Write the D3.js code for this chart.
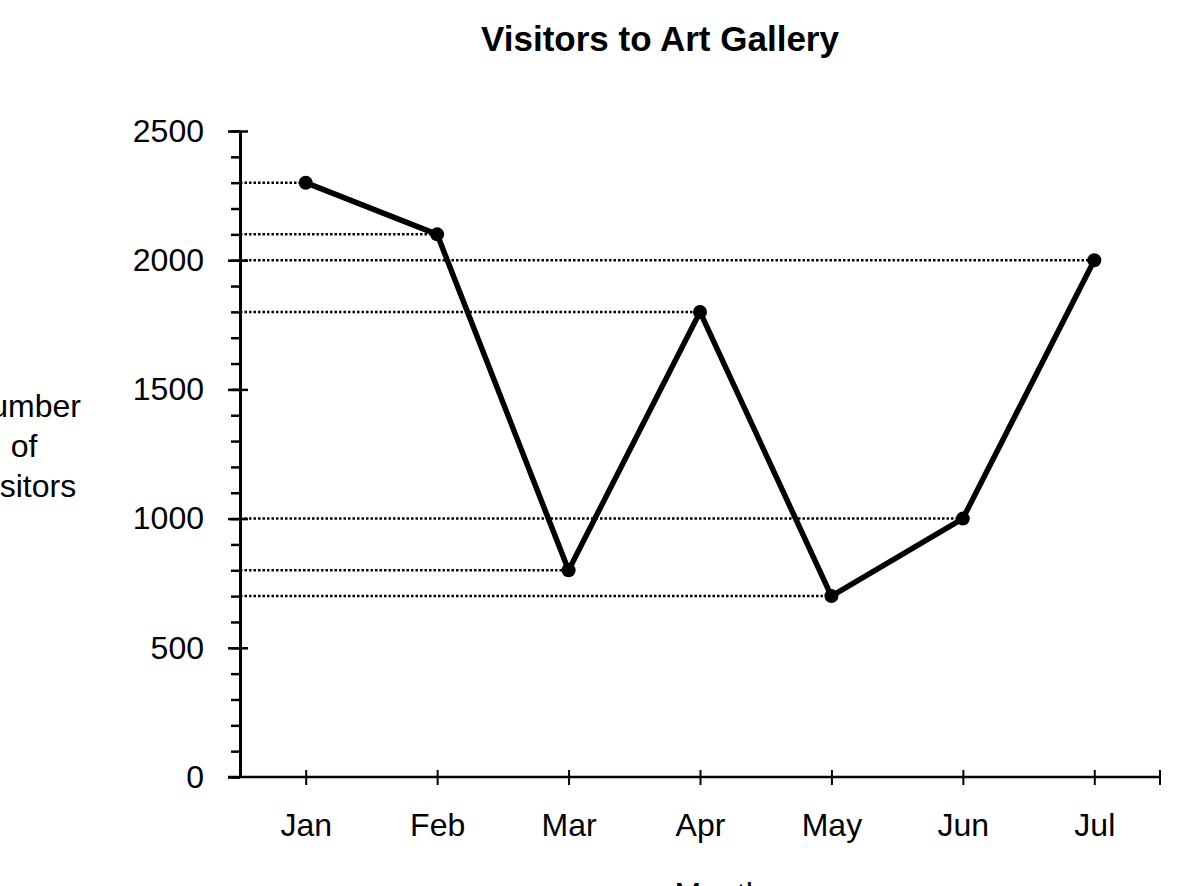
<!DOCTYPE html>
<html>
<head>
<meta charset="utf-8">
<script src="https://cdn.jsdelivr.net/npm/d3@7"></script>
<style>
  html, body { margin: 0; padding: 0; background: #fff; }
  svg { display: block; font-family: "Liberation Sans", Arial, sans-serif; }
</style>
</head>
<body>
<svg id="chart" width="1198" height="886"></svg>
<script>
const months = ["Jan", "Feb", "Mar", "Apr", "May", "Jun", "Jul"];
const visitors = [2300, 2100, 800, 1800, 700, 1000, 2000];
const majorTicks = [0, 500, 1000, 1500, 2000, 2500];
const minorTicks = d3.range(0, 2501, 100);
const chartTitle = "Visitors to Art Gallery";
const xTitle = "Month";
const yTitleLines = ["Number", "of", "Visitors"];

const svg = d3.select("#chart");
const axisX = 240, axisEnd = 1160, plotTop = 131, plotBottom = 777;

const x = d3.scalePoint().domain(months).range([axisX, axisEnd]).padding(0.5);
const y = d3.scaleLinear().domain([0, 2500]).range([plotBottom, plotTop]);

const data = months.map((m, i) => ({ m, v: visitors[i] }));

// Title
svg.append("text").attr("x", 660).attr("y", 51).attr("text-anchor", "middle")
  .attr("font-size", 35).attr("font-weight", "bold").text(chartTitle);

// Dotted guide lines
svg.append("g").selectAll("line").data(data).join("line")
  .attr("x1", axisX).attr("x2", d => x(d.m))
  .attr("y1", d => y(d.v)).attr("y2", d => y(d.v))
  .attr("stroke", "#000").attr("stroke-width", 2.5)
  .attr("stroke-dasharray", "2.5,2");

// Y axis: minor ticks (left side)
const gMinor = svg.append("g").attr("transform", `translate(${axisX},0)`)
  .call(d3.axisLeft(y).tickValues(minorTicks).tickSize(9).tickFormat(""));
gMinor.select(".domain").remove();
gMinor.selectAll(".tick line").attr("stroke", "#000").attr("stroke-width", 2.5);

// Y axis major (left with labels)
const gY = svg.append("g").attr("transform", `translate(${axisX},0)`)
  .call(d3.axisLeft(y).tickValues(majorTicks).tickFormat(d3.format("d"))
    .tickSize(12).tickPadding(24).tickSizeOuter(0));
gY.select(".domain").attr("stroke", "#000").attr("stroke-width", 3);
gY.selectAll(".tick line").attr("stroke", "#000").attr("stroke-width", 2.5);
gY.selectAll(".tick text").attr("font-size", 32).attr("fill", "#000")
  .attr("font-family", "Liberation Sans, Arial, sans-serif");

// Y axis major right part
const gYR = svg.append("g").attr("transform", `translate(${axisX},0)`)
  .call(d3.axisRight(y).tickValues(majorTicks.filter(d => d > 0)).tickSize(8).tickFormat(""));
gYR.select(".domain").remove();
gYR.selectAll(".tick line").attr("stroke", "#000").attr("stroke-width", 2.5);

// X axis
const gX = svg.append("g").attr("transform", `translate(0,${plotBottom})`)
  .call(d3.axisBottom(x).tickSize(8).tickPadding(28).tickSizeOuter(0));
gX.select(".domain").attr("d", `M${axisX - 12},0H${axisEnd}`).attr("stroke", "#000").attr("stroke-width", 2.5);
gX.selectAll(".tick line").attr("y1", -7).attr("y2", 8).attr("stroke", "#000").attr("stroke-width", 2);
gX.selectAll(".tick text").attr("font-size", 32).attr("fill", "#000")
  .attr("font-family", "Liberation Sans, Arial, sans-serif");
// end tick at right
svg.append("line").attr("x1", axisEnd).attr("x2", axisEnd)
  .attr("y1", plotBottom - 7).attr("y2", plotBottom + 8)
  .attr("stroke", "#000").attr("stroke-width", 2);

// Line
svg.append("path").datum(data)
  .attr("d", d3.line().x(d => x(d.m)).y(d => y(d.v)))
  .attr("fill", "none").attr("stroke", "#000").attr("stroke-width", 5.5)
  .attr("stroke-linejoin", "round");

// Markers
svg.append("g").selectAll("circle").data(data).join("circle")
  .attr("cx", d => x(d.m)).attr("cy", d => y(d.v)).attr("r", 7).attr("fill", "#000");

// Y title
const yt = svg.append("text").attr("text-anchor", "middle").attr("font-size", 32);
yTitleLines.forEach((t, i) => {
  yt.append("tspan").attr("x", 24).attr("y", 417 + i * 40).text(t);
});

// X title
svg.append("text").attr("x", 719).attr("y", 905).attr("text-anchor", "middle")
  .attr("font-size", 32).text(xTitle);
</script>
</body>
</html>
